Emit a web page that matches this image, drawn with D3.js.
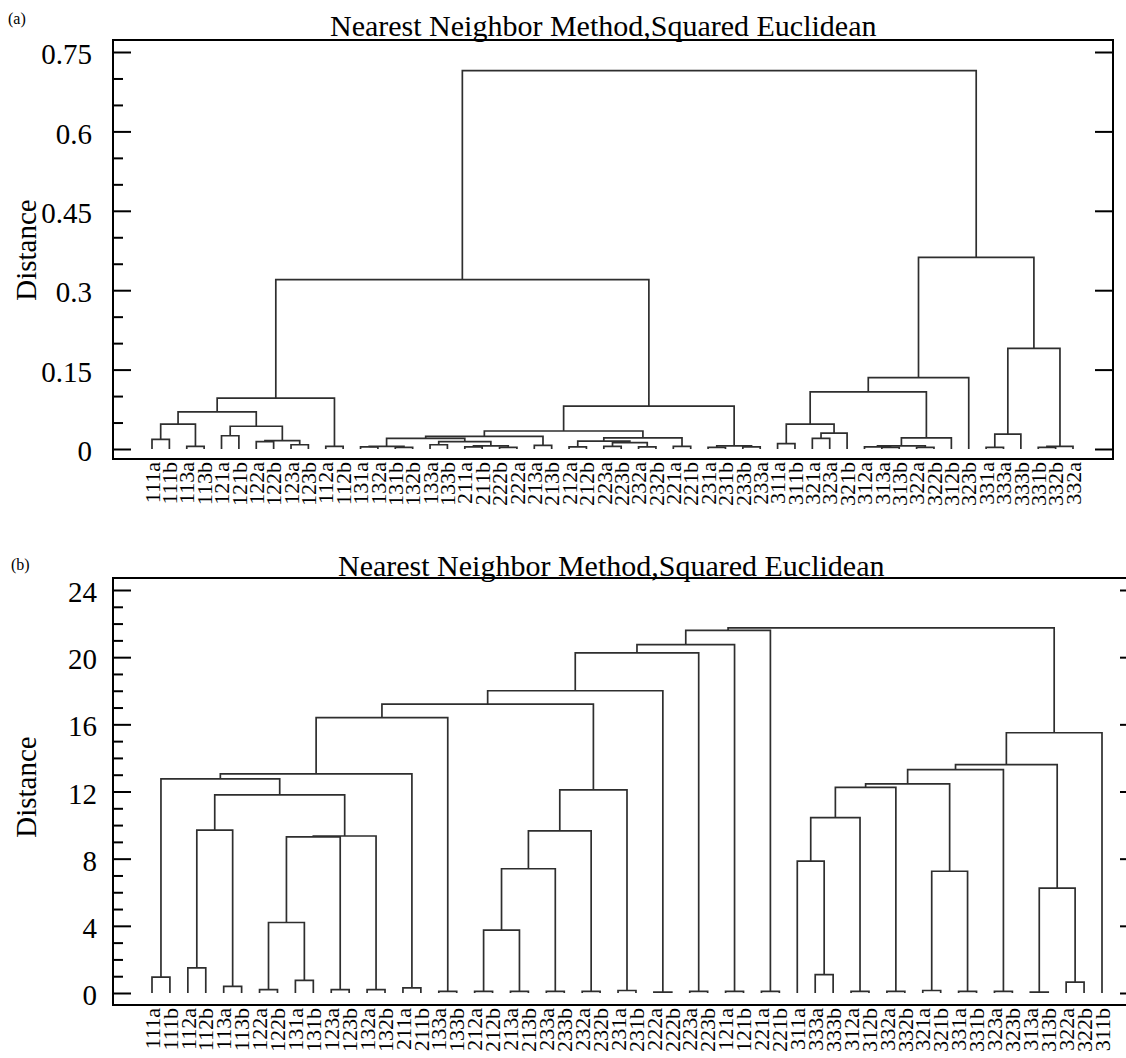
<!DOCTYPE html>
<html>
<head>
<meta charset="utf-8">
<script src="https://cdn.jsdelivr.net/npm/d3@7"></script>
<style>
  body { margin: 0; background: #fff; }
  svg { display: block; font-family: "Liberation Serif", "Times New Roman", serif; }
</style>
</head>
<body>
<div id="chart"></div>
<script>
const width = 1126
const height = 1058
const title = "Nearest Neighbor Method,Squared Euclidean"

// panel (a): leaves in plotted order
const leavesA = ["111a","111b","113a","113b","121a","121b","122a","122b","123a","123b","112a","112b",
  "131a","132a","131b","132b","133a","133b","211a","211b","222b","222a","213a","213b",
  "212a","212b","223a","223b","232a","232b","221a","221b","231a","231b","233b","233a",
  "311a","311b","321a","323a","321b","312a","313a","313b","322a","322b","312b","323b",
  "331a","333a","333b","331b","332b","332a"]

// linkage rows [left, right, distance]: a string is a leaf, a number is an earlier row
const mergesA = [
  ["111a","111b",0.018], ["113a","113b",0.005], [0,1,0.047], ["121a","121b",0.025],
  ["122a","122b",0.014], ["123a","123b",0.008], [4,5,0.016], [3,6,0.043],
  [2,7,0.070], ["112a","112b",0.005], [8,9,0.096],
  ["131a","132a",0.004], ["131b","132b",0.003], [11,12,0.005], ["133a","133b",0.008],
  ["211a","211b",0.004], ["222b","222a",0.003], [15,16,0.006], [14,17,0.014],
  [13,18,0.020], ["213a","213b",0.007], [19,20,0.024],
  ["212a","212b",0.004], ["223a","223b",0.005], ["232a","232b",0.004], ["221a","221b",0.005],
  [23,24,0.012], [22,26,0.015], [27,25,0.021], [21,28,0.034],
  ["231a","231b",0.003], ["233b","233a",0.004], [30,31,0.006], [29,32,0.081],
  [10,33,0.320],
  ["311a","311b",0.010], ["321a","323a",0.020], [36,"321b",0.030], [35,37,0.047],
  ["313a","313b",0.003], ["312a",39,0.004], ["322a","322b",0.003], [40,41,0.006],
  [42,"312b",0.021], [38,43,0.108], [44,"323b",0.135],
  ["331a","333a",0.003], [46,"333b",0.028], ["331b","332b",0.003], [48,"332a",0.005],
  [47,49,0.190], [45,50,0.362], [34,51,0.715]
]
const ticksA = [0, 0.15, 0.3, 0.45, 0.6, 0.75]
const minorTicksA = [0.05, 0.1, 0.2, 0.25, 0.35, 0.4, 0.5, 0.55, 0.65, 0.7]

// panel (b)
const leavesB = ["111a","111b","112a","112b","113a","113b","122a","122b","131a","131b","123a","123b",
  "132a","132b","211a","211b","133a","133b","212a","212b","213a","213b","233a","233b",
  "232a","232b","231a","231b","222a","222b","223a","223b","121a","121b","221a","221b",
  "311a","333a","333b","312a","312b","332a","332b","321a","321b","331a","331b","323a",
  "323b","313a","313b","322a","322b","311b"]

const mergesB = [
  ["111a","111b",0.95], ["112a","112b",1.5], ["113a","113b",0.4], [1,2,9.7],
  ["122a","122b",0.2], ["131a","131b",0.75], [4,5,4.2], ["123a","123b",0.2],
  [6,7,9.3], ["132a","132b",0.2], [8,9,9.35], [3,10,11.8], [0,11,12.75],
  ["211a","211b",0.3], [12,13,13.05], ["133a","133b",0.1], [14,15,16.4],
  ["212a","212b",0.1], ["213a","213b",0.1], [17,18,3.75], ["233a","233b",0.1],
  [19,20,7.4], ["232a","232b",0.1], [21,22,9.65], ["231a","231b",0.15], [23,24,12.1],
  [16,25,17.2], ["222a","222b",0.05], [26,27,18.0], ["223a","223b",0.1], [28,29,20.25],
  ["121a","121b",0.1], [30,31,20.75], ["221a","221b",0.1], [32,33,21.6],
  ["333a","333b",1.1], ["311a",35,7.85], ["312a","312b",0.1], [36,37,10.45],
  ["332a","332b",0.1], [38,39,12.25], ["321a","321b",0.15], ["331a","331b",0.1],
  [41,42,7.25], [40,43,12.45], ["323a","323b",0.1], [44,45,13.3],
  ["313a","313b",0.05], ["322a","322b",0.65], [47,48,6.25], [46,49,13.6],
  [50,"311b",15.5], [34,51,21.75]
]
const ticksB = [0, 4, 8, 12, 16, 20, 24]
const minorTicksB = [1,2,3,5,6,7,9,10,11,13,14,15,17,18,19,21,22,23]

const panels = [
  {tag: "(a)", leaves: leavesA, merges: mergesA, ticks: ticksA, minor: minorTicksA, max: 0.75,
   frame: {left: 113, right: 1113, top: 40, bottom: 459}, yRange: [449, 52], xRange: [152, 1073],
   titleX: 330, titleY: 36, tagX: 8, tagY: 24, pad: 21, distY: 250, labelY: 462},
  {tag: "(b)", leaves: leavesB, merges: mergesB, ticks: ticksB, minor: minorTicksB, max: 24,
   frame: {left: 113, right: 1138, top: 578, bottom: 1005}, yRange: [993, 590], xRange: [152, 1102],
   titleX: 338, titleY: 576, tagX: 11, tagY: 570, pad: 16, distY: 787, labelY: 1008}
]

const svg = d3.select('#chart')
  .append('svg')
  .attr('width', width)
  .attr('height', height)

const drawPanel = function (p) {
  const g = svg.append('g')
  const f = p.frame

  const x = d3.scalePoint().domain(p.leaves).range(p.xRange)
  const y = d3.scaleLinear().domain([0, p.max]).range(p.yRange)

  // work out where each merge sits
  const nodes = []
  const pos = c => typeof c === "string" ? {x: x(c), h: 0} : nodes[c]
  p.merges.forEach(([l, r, h]) => {
    const a = pos(l), b = pos(r)
    nodes.push({x: (a.x + b.x) / 2, h: h, a: a, b: b})
  })

  g.selectAll('path.link')
    .data(nodes)
    .enter()
    .append('path')
    .attr('class', 'link')
    .attr('fill', 'none')
    .attr('stroke', '#2e2e2e')
    .attr('stroke-width', 1.7)
    .attr('d', d => `M${d.a.x},${y(d.a.h)}V${y(d.h)}H${d.b.x}V${y(d.b.h)}`)

  // axes
  const left = g.append('g')
    .attr('transform', `translate(${f.left},0)`)
    .call(d3.axisLeft(y).tickValues(p.ticks).tickSize(-18).tickPadding(p.pad).tickFormat(d => String(d)))
  left.select('.domain').remove()
  left.selectAll('text')
    .attr('dy', '0.4em')
    .style('font-size', '29px')
    .style('font-family', '"Liberation Serif", serif')
    .attr('fill', '#000')

  const leftMinor = g.append('g')
    .attr('transform', `translate(${f.left},0)`)
    .call(d3.axisLeft(y).tickValues(p.minor).tickSize(-10).tickFormat(''))
  leftMinor.select('.domain').remove()

  const right = g.append('g')
    .attr('transform', `translate(${f.right},0)`)
    .call(d3.axisRight(y).tickValues(p.ticks).tickSize(-18).tickFormat(''))
  right.select('.domain').remove()

  g.selectAll('.tick line').attr('stroke', '#000').attr('stroke-width', 2)

  // frame
  g.append('rect')
    .attr('x', f.left)
    .attr('y', f.top)
    .attr('width', f.right - f.left)
    .attr('height', f.bottom - f.top)
    .attr('fill', 'none')
    .attr('stroke', '#000')
    .attr('stroke-width', 2)

  // leaf labels
  g.selectAll('text.leaf')
    .data(p.leaves)
    .enter()
    .append('text')
    .attr('class', 'leaf')
    .attr('transform', d => `translate(${x(d)},${p.labelY}) rotate(-90)`)
    .attr('dy', '0.35em')
    .attr('text-anchor', 'end')
    .style('font-size', '22px')
    .text(d => d)

  g.append('text')
    .attr('x', p.titleX)
    .attr('y', p.titleY)
    .style('font-size', '30px')
    .text(title)

  g.append('text')
    .attr('x', p.tagX)
    .attr('y', p.tagY)
    .style('font-size', '16px')
    .text(p.tag)

  g.append('text')
    .attr('transform', `translate(36,${p.distY}) rotate(-90)`)
    .attr('text-anchor', 'middle')
    .style('font-size', '29px')
    .text('Distance')
}

panels.forEach(drawPanel)
</script>
</body>
</html>
